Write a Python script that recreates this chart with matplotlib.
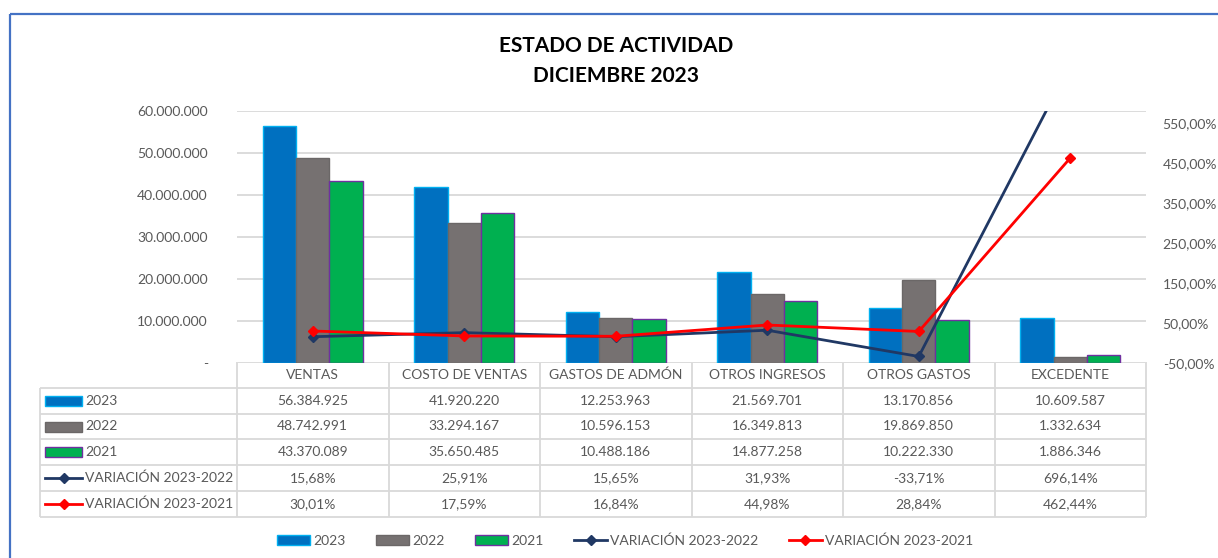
import matplotlib
matplotlib.use("Agg")
import matplotlib.pyplot as plt
from matplotlib.patches import Rectangle
from matplotlib.lines import Line2D
from matplotlib.ticker import FuncFormatter, MultipleLocator
import numpy as np

plt.rcParams['font.family'] = ['Lato', 'DejaVu Sans']

# --- data -------------------------------------------------------------
categories = ["VENTAS", "COSTO DE VENTAS", "GASTOS DE ADMÓN", "OTROS INGRESOS",
              "OTROS GASTOS", "EXCEDENTE"]
values_2023 = [56384925, 41920220, 12253963, 21569701, 13170856, 10609587]
values_2022 = [48742991, 33294167, 10596153, 16349813, 19869850, 1332634]
values_2021 = [43370089, 35650485, 10488186, 14877258, 10222330, 1886346]
var_23_22 = [15.68, 25.91, 15.65, 31.93, -33.71, 696.14]
var_23_21 = [30.01, 17.59, 16.84, 44.98, 28.84, 462.44]
pct_ticks = [-50, 50, 150, 250, 350, 450, 550]

series_labels = ["2023", "2022", "2021", "VARIACIÓN 2023-2022", "VARIACIÓN 2023-2021"]

# --- styles -----------------------------------------------------------
C_BLUE, E_BLUE = "#0070C0", "#00B0F0"
C_GREY, E_GREY = "#767171", "#6B6767"
C_GREEN, E_GREEN = "#00B050", "#7030A0"
C_NAVY = "#203864"
C_RED = "#FF0000"
TXT = "#595959"
GRID = "#D9D9D9"

W, H = 1218, 558
fig = plt.figure(figsize=(W / 100, H / 100), dpi=100)


def frac_rect(x0, y0, x1, y1):
    return [x0 / W, 1 - y1 / H, (x1 - x0) / W, (y1 - y0) / H]


PX0, PY0, PX1, PY1 = 237, 111, 1146, 363
ax = fig.add_axes(frac_rect(PX0, PY0, PX1, PY1))
ax2 = ax.twinx()

x = np.arange(len(categories))
bw = 0.22
ax.bar(x - bw, values_2023, bw, color=C_BLUE, edgecolor=E_BLUE, linewidth=1.0, zorder=3)
ax.bar(x, values_2022, bw, color=C_GREY, edgecolor=E_GREY, linewidth=1.0, zorder=3)
ax.bar(x + bw, values_2021, bw, color=C_GREEN, edgecolor=E_GREEN, linewidth=1.0, zorder=3)

ax.set_xlim(-0.5, len(categories) - 0.5)
ax.set_ylim(0, 60e6)
ax.yaxis.set_major_locator(MultipleLocator(10e6))
ax.yaxis.set_major_formatter(FuncFormatter(
    lambda v, p: "-" if abs(v) < 1 else f"{v:,.0f}".replace(",", ".")))
ax.grid(axis="y", color=GRID, linewidth=1.3, zorder=0)
ax.set_axisbelow(True)
ax.set_xticks([])
for s in ax.spines.values():
    s.set_visible(False)
ax.tick_params(axis="y", length=0, pad=21, labelsize=10, labelcolor=TXT)

# secondary (percentage) axis: its own scale, not aligned with the grid
ax2.plot(x, var_23_22, color=C_NAVY, lw=2, marker="D", ms=5, zorder=5)
ax2.plot(x, var_23_21, color=C_RED, lw=2, marker="D", ms=5, zorder=5)
ax2.set_ylim(-50, 580)
ax2.set_yticks(pct_ticks)
ax2.yaxis.set_major_formatter(FuncFormatter(
    lambda v, p: f"{v:.2f}".replace(".", ",") + "%"))
ax2.tick_params(axis="y", length=0, pad=12, labelsize=10, labelcolor=TXT)
for s in ax2.spines.values():
    s.set_visible(False)
ax2.set_zorder(ax.get_zorder() + 1)
ax2.patch.set_visible(False)

# --- overlay in pixel coordinates: title, data table, frame -----------
ov = fig.add_axes([0, 0, 1, 1], zorder=-1)
ov.set_xlim(0, W)
ov.set_ylim(H, 0)
ov.axis("off")

ov.add_patch(Rectangle((9.5, 14), W + 20, H + 20, fill=False,
                       edgecolor="#4472C4", lw=1.6, clip_on=False))

ov.text(616, 46, "ESTADO DE ACTIVIDAD", ha="center", va="center",
        fontsize=15, fontweight="bold", color="black")
ov.text(616, 76, "DICIEMBRE 2023", ha="center", va="center",
        fontsize=15, fontweight="bold", color="black")

# table geometry
TX0 = 40
col_w = (PX1 - PX0) / len(categories)
col_edges = [PX0 + i * col_w for i in range(len(categories) + 1)]
row_top = 362
row_h = 25.8
n_rows = 5
row_edges = [row_top + i * row_h for i in range(n_rows + 2)]
tbl_bottom = row_edges[-1]

lkw = dict(color=GRID, lw=1.3, solid_capstyle="butt")
ov.plot([PX0, PX1], [row_top, row_top], **lkw)
for yy in row_edges[1:]:
    ov.plot([TX0, PX1], [yy, yy], **lkw)
ov.plot([TX0, TX0], [row_edges[1], tbl_bottom], **lkw)
for xx in col_edges:
    ov.plot([xx, xx], [row_top, tbl_bottom], **lkw)

for i, cat in enumerate(categories):
    cx = (col_edges[i] + col_edges[i + 1]) / 2
    ov.text(cx, (row_edges[0] + row_edges[1]) / 2, cat, ha="center", va="center",
            fontsize=10, color=TXT)


def fmt_int(v):
    return f"{v:,.0f}".replace(",", ".")


def fmt_pct(v):
    return f"{v:.2f}".replace(".", ",") + "%"


rows = [
    [fmt_int(v) for v in values_2023],
    [fmt_int(v) for v in values_2022],
    [fmt_int(v) for v in values_2021],
    [fmt_pct(v) for v in var_23_22],
    [fmt_pct(v) for v in var_23_21],
]
for r, vals in enumerate(rows):
    cy = (row_edges[r + 1] + row_edges[r + 2]) / 2
    for i, t in enumerate(vals):
        cx = (col_edges[i] + col_edges[i + 1]) / 2
        ov.text(cx, cy, t, ha="center", va="center", fontsize=10, color=TXT)

# legend keys inside the first table column
swatches = [(C_BLUE, E_BLUE), (C_GREY, E_GREY), (C_GREEN, E_GREEN)]
for r in range(n_rows):
    cy = (row_edges[r + 1] + row_edges[r + 2]) / 2
    if r < 3:
        fc, ec = swatches[r]
        ov.add_patch(Rectangle((45, cy - 5), 37, 10, facecolor=fc, edgecolor=ec, lw=1))
    else:
        col = C_NAVY if r == 3 else C_RED
        ov.plot([45, 82], [cy, cy], color=col, lw=2)
        ov.plot([63.5], [cy], color=col, marker="D", ms=5)
    ov.text(85, cy, series_labels[r], ha="left", va="center", fontsize=10, color=TXT)

# --- bottom legend ----------------------------------------------------
handles = [
    Rectangle((0, 0), 1, 1, facecolor=C_BLUE, edgecolor=E_BLUE, lw=1),
    Rectangle((0, 0), 1, 1, facecolor=C_GREY, edgecolor=E_GREY, lw=1),
    Rectangle((0, 0), 1, 1, facecolor=C_GREEN, edgecolor=E_GREEN, lw=1),
    Line2D([], [], color=C_NAVY, lw=2, marker="D", ms=5),
    Line2D([], [], color=C_RED, lw=2, marker="D", ms=5),
]
leg = fig.legend(handles, series_labels, loc="center", ncol=5,
                 bbox_to_anchor=(625 / W, 1 - 541 / H), frameon=False,
                 fontsize=10, handlelength=2.4, handleheight=0.75,
                 handletextpad=0.2, columnspacing=2.2)
for t in leg.get_texts():
    t.set_color(TXT)

fig.savefig("out.png", dpi=100)
